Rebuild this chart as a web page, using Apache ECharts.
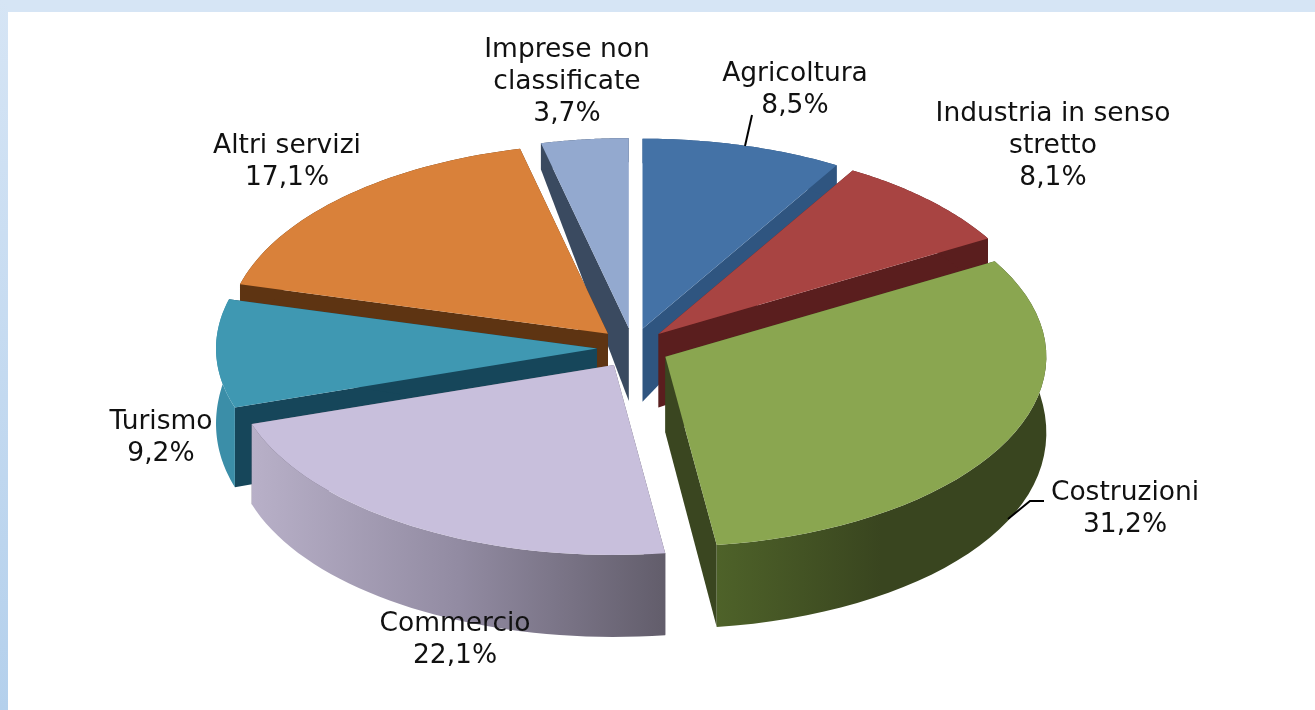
<!DOCTYPE html>
<html>
<head>
<meta charset="utf-8">
<style>
  html, body { margin: 0; padding: 0; background: #fff; }
  #chart { width: 1315px; height: 710px; }
</style>
</head>
<body>
<div id="chart"></div>
<script src="https://cdn.jsdelivr.net/npm/echarts@6/dist/echarts.min.js"></script>
<script>
const categories = ['Agricoltura', 'Industria in senso\nstretto', 'Costruzioni', 'Commercio', 'Turismo', 'Altri servizi', 'Imprese non\nclassificate']
const values = [8.5, 8.1, 31.2, 22.1, 9.2, 17.1, 3.7]

// back slices first so the front ones cover them
const drawOrder = [6, 0, 5, 1, 4, 2, 3]

const topColors = ['#4472a6', '#a84442', '#8aa650', '#c8bfdc', '#3f98b2', '#d9813a', '#93a9cf']
const sideColors = ['#2f5580', '#5a1e1e', '#3a4620', '#5f5a68', '#16465a', '#5e3412', '#3a4a60']
const outerColors = [
  '#2f5580', '#5a1e1e', ['#4e6229', '#39451f', '#39451f'], ['#b8b0c8', '#928ba2', '#625d6b'],
  '#3b8ea8', '#5e3412', '#3a4a60'
]
const labelAnchors = [
  [795, 90], [1053, 146], [1125, 509], [455, 640], [161, 438], [287, 162], [567, 82]
]

const cx = 633
const cy = 348
const rx = 381
const ry = 190
const explodeX = 36
const explodeY = 20
const total = values.reduce((a, b) => a + b, 0)

// walls look taller towards the viewer
function drop(y) {
  const k = Math.max(0, (550 - y) / 410)
  return 82 - 57 * k * k * k
}

function fillOf(c) {
  if (!Array.isArray(c)) return c
  return new echarts.graphic.LinearGradient(0, 0, 1, 0, c.map((color, i) => ({ offset: i / (c.length - 1), color })))
}

function renderSlice(params, api) {
  const idx = api.value(1)
  let before = 0
  for (let i = 0; i < idx; i++) before += values[i]
  const a0 = before / total * Math.PI * 2
  const a1 = (before + values[idx]) / total * Math.PI * 2
  const mid = (a0 + a1) / 2
  const vx = cx + explodeX * Math.sin(mid)
  const vy = cy - explodeY * Math.cos(mid)

  const arc = []
  const steps = 40
  for (let s = 0; s <= steps; s++) {
    const t = a0 + (a1 - a0) * s / steps
    arc.push([vx + rx * Math.sin(t), vy - ry * Math.cos(t)])
  }
  const down = p => [p[0], p[1] + drop(p[1])]
  const base = drawOrder.indexOf(idx) * 10
  const vertex = [vx, vy]
  const first = arc[0]
  const last = arc[arc.length - 1]

  const poly = (points, fill, z2) => ({
    type: 'polygon',
    shape: { points },
    style: { fill },
    z2: base + z2
  })

  return {
    type: 'group',
    children: [
      poly([vertex, first, down(first), down(vertex)], sideColors[idx], 1),
      poly([vertex, last, down(last), down(vertex)], sideColors[idx], 1),
      poly(arc.concat(arc.slice().reverse().map(down)), fillOf(outerColors[idx]), 2),
      poly([vertex].concat(arc), topColors[idx], 3)
    ]
  }
}

const labelText = i => categories[i] + '\n' + values[i].toFixed(1).replace('.', ',') + '%'

const chart = echarts.init(document.getElementById('chart'))
chart.setOption({
  animation: false,
  graphic: [
    { type: 'rect', shape: { x: 0, y: 0, width: 1315, height: 12 }, style: { fill: '#d6e5f5' }, z: -1 },
    {
      type: 'rect',
      shape: { x: 0, y: 0, width: 8, height: 710 },
      style: {
        fill: new echarts.graphic.LinearGradient(0, 0, 0, 1, [
          { offset: 0, color: '#d6e5f5' },
          { offset: 1, color: '#b4d0ec' }
        ])
      },
      z: -1
    },
    { type: 'polyline', shape: { points: [[752, 115], [745, 146]] }, style: { stroke: '#000', lineWidth: 2, fill: null }, z: 5 },
    { type: 'polyline', shape: { points: [[1044, 501], [1030, 501], [1008, 519]] }, style: { stroke: '#000', lineWidth: 2, fill: null }, z: 5 },
    ...categories.map((c, i) => ({
      type: 'text',
      x: labelAnchors[i][0],
      y: labelAnchors[i][1],
      z: 10,
      style: {
        text: labelText(i),
        fill: '#111',
        font: '26.5px "DejaVu Sans"',
        lineHeight: 32,
        align: 'center',
        verticalAlign: 'middle'
      }
    }))
  ],
  series: [{
    type: 'custom',
    coordinateSystem: 'none',
    renderItem: renderSlice,
    data: values.map((v, i) => [v, i])
  }]
})
</script>
</body>
</html>
